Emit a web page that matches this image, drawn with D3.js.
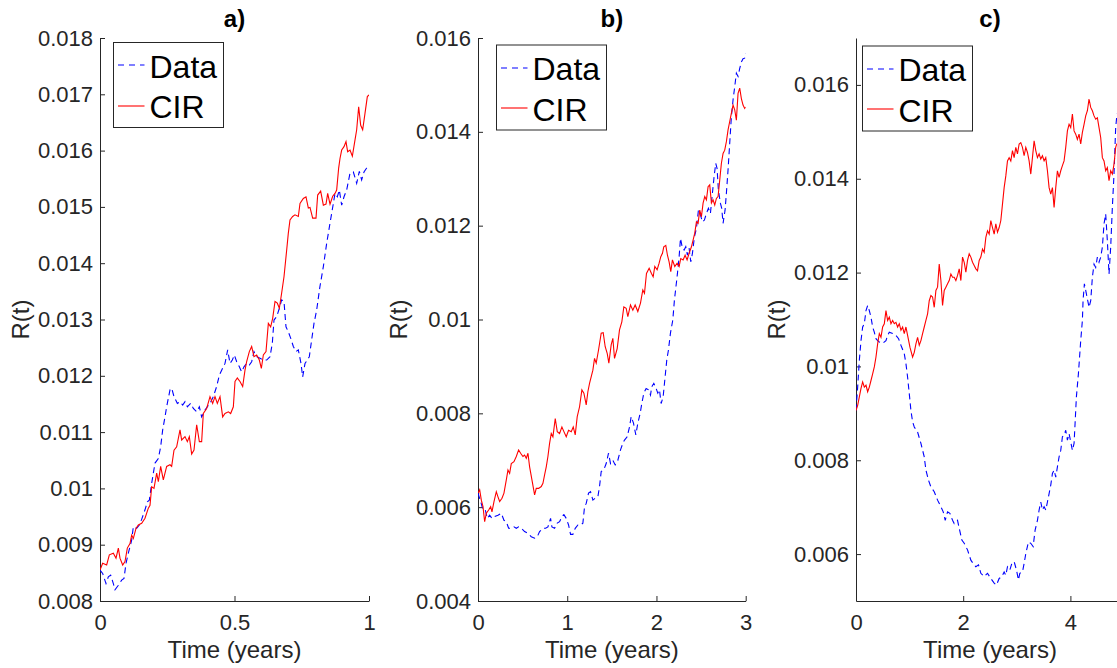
<!DOCTYPE html>
<html>
<head>
<meta charset="utf-8">
<script src="https://cdn.jsdelivr.net/npm/d3@7"></script>
<style>
  html, body { margin: 0; padding: 0; background: #fff; overflow: hidden; }
  svg { display: block; font-family: "Liberation Sans", Arial, Helvetica, sans-serif; }
</style>
</head>
<body>
<svg id="chart" width="1117" height="668"></svg>
<script>
// ---------------- DATA ----------------
const titles = ["a)", "b)", "c)"];
const xLabel = "Time (years)";
const yLabel = "R(t)";
const legendLabels = ["Data", "CIR"];

// Panel a
const aXTicks = [0, 0.5, 1];
const aYTicks = [0.008, 0.009, 0.01, 0.011, 0.012, 0.013, 0.014, 0.015, 0.016, 0.017, 0.018];
const aDataT = [0,0.0099,0.0223,0.031,0.0397,0.0496,0.0558,0.0682,0.0805,0.0892,0.0967,0.1053,0.1177,0.1239,0.1363,0.1462,0.1549,0.1673,0.176,0.1834,0.1921,0.2045,0.2169,0.2255,0.233,0.2416,0.2478,0.2602,0.2664,0.2751,0.2875,0.2974,0.3073,0.316,0.3247,0.337,0.347,0.3594,0.3693,0.3779,0.3903,0.399,0.4089,0.4213,0.4337,0.4436,0.4523,0.4647,0.4746,0.4833,0.4919,0.4994,0.5081,0.518,0.5266,0.5353,0.5452,0.5551,0.5638,0.5725,0.5824,0.5948,0.6072,0.6196,0.632,0.6406,0.6468,0.6568,0.6667,0.6753,0.684,0.6914,0.7001,0.7088,0.7187,0.7286,0.7373,0.7472,0.7534,0.7621,0.7708,0.7782,0.7869,0.7955,0.8055,0.8174,0.8303,0.8426,0.855,0.8674,0.8736,0.8823,0.8897,0.8984,0.9071,0.917,0.9294,0.9418,0.9542,0.9641,0.9727,0.9814,0.9913,1.0];
const aDataV = [0.00855,0.00849,0.00831,0.00843,0.00846,0.00831,0.0082,0.00828,0.00837,0.0084,0.00867,0.00885,0.00908,0.00932,0.00929,0.00935,0.00945,0.00962,0.00976,0.00979,0.01009,0.01045,0.01053,0.01074,0.01104,0.01127,0.01145,0.01175,0.01178,0.01163,0.01151,0.01154,0.01148,0.01154,0.01145,0.01151,0.01142,0.01136,0.01145,0.01127,0.01139,0.01145,0.01151,0.01163,0.01181,0.01201,0.0121,0.01222,0.01246,0.01222,0.01228,0.01237,0.01225,0.01216,0.01207,0.01216,0.01222,0.01219,0.01225,0.01243,0.01234,0.01231,0.01228,0.01228,0.01234,0.01258,0.01299,0.01305,0.0132,0.01335,0.01332,0.01287,0.01278,0.01267,0.01252,0.01243,0.01246,0.01222,0.01198,0.01222,0.01228,0.01234,0.01264,0.01293,0.01317,0.01358,0.01394,0.01435,0.01471,0.01506,0.01524,0.01518,0.0153,0.01503,0.01518,0.0153,0.0156,0.01562,0.01542,0.01563,0.01548,0.01562,0.01569,0.01574];
const aCirT = [0,0.0099,0.0248,0.0347,0.0496,0.0595,0.0682,0.0743,0.0843,0.0929,0.1016,0.1115,0.1177,0.1239,0.1338,0.1425,0.1549,0.1673,0.1797,0.1859,0.1921,0.2007,0.2107,0.2169,0.2255,0.2354,0.2478,0.2602,0.2664,0.2751,0.285,0.2974,0.3036,0.316,0.3247,0.3321,0.3408,0.3494,0.3594,0.3693,0.3779,0.3841,0.3965,0.4089,0.4188,0.4275,0.4362,0.4461,0.456,0.4647,0.4771,0.4857,0.4957,0.5019,0.5105,0.5204,0.5304,0.539,0.5452,0.5551,0.5638,0.5725,0.5824,0.5923,0.5998,0.6072,0.6171,0.6258,0.6344,0.6419,0.6506,0.6592,0.6667,0.6753,0.684,0.6939,0.700,0.7063,0.7162,0.7249,0.7373,0.7435,0.7559,0.7658,0.7745,0.7807,0.7906,0.803,0.8092,0.8203,0.8303,0.8402,0.8464,0.8551,0.865,0.8736,0.8798,0.8872,0.8922,0.8984,0.9071,0.9145,0.9207,0.9294,0.9381,0.948,0.9542,0.9616,0.9691,0.9765,0.9851,0.9938,1.0];
const aCirV = [0.00855,0.00867,0.00864,0.00882,0.00885,0.00876,0.00894,0.00876,0.00864,0.0087,0.00894,0.00902,0.00917,0.00911,0.00929,0.00935,0.00938,0.00947,0.00965,0.0097,0.01003,0.01,0.01027,0.01012,0.01039,0.01015,0.01039,0.01042,0.01039,0.01068,0.01074,0.01104,0.01086,0.01092,0.01083,0.01092,0.01061,0.01068,0.01113,0.01083,0.01083,0.01133,0.01142,0.01163,0.01151,0.01163,0.01151,0.01163,0.01127,0.01133,0.01136,0.01133,0.01145,0.0119,0.01196,0.0119,0.01181,0.0121,0.01225,0.01243,0.01252,0.01234,0.01237,0.01228,0.01213,0.01237,0.01243,0.01293,0.01287,0.01302,0.01332,0.01329,0.0132,0.01347,0.01376,0.01423,0.01453,0.01477,0.01483,0.01486,0.01483,0.01506,0.01515,0.01518,0.01498,0.01499,0.0148,0.0148,0.01521,0.01528,0.01503,0.01505,0.01524,0.01505,0.01519,0.01524,0.0153,0.01569,0.01586,0.01601,0.01607,0.01616,0.01598,0.01601,0.0159,0.01619,0.01637,0.01678,0.01645,0.01637,0.01666,0.01696,0.01699];

// Panel b
const bXTicks = [0, 1, 2, 3];
const bYTicks = [0.004, 0.006, 0.008, 0.01, 0.012, 0.014, 0.016];
const bDataT = [0,0.0299,0.056,0.0821,0.1045,0.1306,0.1567,0.1866,0.2239,0.2612,0.291,0.3172,0.3433,0.3731,0.403,0.4291,0.4552,0.4851,0.5224,0.5597,0.597,0.6343,0.6642,0.6903,0.7276,0.7575,0.7836,0.8134,0.8284,0.8582,0.8881,0.9142,0.9403,0.9627,0.9888,1.0149,1.0373,1.0634,1.0896,1.1194,1.1493,1.1754,1.194,1.2127,1.2388,1.2612,1.2873,1.3134,1.3433,1.3619,1.3806,1.4104,1.4366,1.4627,1.4851,1.5112,1.5373,1.5672,1.597,1.6231,1.6418,1.6716,1.6978,1.7164,1.7425,1.7687,1.791,1.8172,1.8358,1.8582,1.8843,1.9104,1.9328,1.9478,1.9701,1.9963,2.0149,2.0336,2.0522,2.0746,2.097,2.1157,2.1343,2.1567,2.183,2.2015,2.216,2.231,2.254,2.269,2.291,2.3097,2.3284,2.347,2.3657,2.3843,2.403,2.4254,2.4478,2.4701,2.4925,2.5149,2.5373,2.5597,2.5821,2.6045,2.6269,2.6455,2.6642,2.6791,2.694,2.7164,2.7313,2.7463,2.7687,2.7836,2.8022,2.8209,2.8396,2.8582,2.8769,2.8955,2.9142,2.9328,2.9515,2.9701,2.9888,3.0];
const bDataV = [0.0063,0.00612,0.00594,0.00594,0.00576,0.00583,0.00576,0.0058,0.00583,0.00587,0.00572,0.00569,0.00555,0.00555,0.00558,0.00555,0.00558,0.00555,0.00548,0.00544,0.00537,0.00534,0.00537,0.00548,0.00555,0.00555,0.00558,0.00576,0.00558,0.00555,0.00566,0.00569,0.0058,0.00584,0.00576,0.00562,0.00542,0.00542,0.00555,0.00562,0.00562,0.00566,0.00601,0.00608,0.0063,0.00633,0.00615,0.00619,0.00622,0.00644,0.00676,0.0068,0.00693,0.00715,0.00693,0.007,0.0069,0.007,0.00722,0.00736,0.00743,0.0075,0.00771,0.00793,0.00779,0.00754,0.00779,0.008,0.00821,0.00843,0.00853,0.0085,0.00839,0.00857,0.00864,0.00853,0.00843,0.0085,0.00821,0.00835,0.00878,0.00914,0.00935,0.00971,0.00999,0.01042,0.01066,0.01091,0.01134,0.01173,0.01152,0.01148,0.01155,0.01137,0.01152,0.01123,0.01141,0.01176,0.01194,0.01233,0.01223,0.01208,0.01212,0.01226,0.01237,0.01226,0.01269,0.01304,0.01333,0.01322,0.01276,0.01248,0.01237,0.01205,0.01233,0.01269,0.01319,0.01376,0.01432,0.01468,0.01496,0.01525,0.01518,0.01535,0.01549,0.01556,0.01557,0.01567];
const bCirT = [0,0.0187,0.0373,0.056,0.0746,0.0933,0.1194,0.1418,0.1567,0.1791,0.2052,0.2239,0.2425,0.2687,0.291,0.3172,0.3358,0.3545,0.3731,0.403,0.4291,0.4552,0.4776,0.5037,0.5224,0.541,0.5597,0.5784,0.6045,0.6343,0.653,0.6791,0.709,0.7276,0.7463,0.7649,0.7836,0.8022,0.8209,0.8396,0.8657,0.8881,0.9142,0.9403,0.9627,0.9888,1.0149,1.0448,1.0672,1.0896,1.1119,1.1381,1.1642,1.1866,1.2127,1.2313,1.25,1.2873,1.306,1.3246,1.3507,1.3806,1.403,1.4254,1.4478,1.4664,1.4925,1.5112,1.5299,1.5597,1.5858,1.6119,1.6343,1.6604,1.6791,1.709,1.7351,1.7612,1.791,1.8209,1.847,1.8657,1.888,1.9181,1.9439,1.9627,1.9813,2.0074,2.0298,2.0484,2.0671,2.082,2.1044,2.1231,2.1417,2.1604,2.179,2.2052,2.2313,2.2537,2.2724,2.2985,2.3209,2.3433,2.3657,2.3918,2.4104,2.4291,2.4478,2.4664,2.4851,2.5037,2.5224,2.541,2.5597,2.5784,2.597,2.6157,2.6343,2.653,2.6716,2.6903,2.709,2.7276,2.7463,2.7649,2.7836,2.8022,2.8209,2.8396,2.8582,2.8769,2.8955,2.9142,2.9328,2.9515,2.9701,2.9888,3.0];
const bCirV = [0.0063,0.00637,0.00615,0.00601,0.00569,0.00587,0.00594,0.00601,0.0059,0.00612,0.00633,0.00622,0.00612,0.00619,0.0063,0.00658,0.00679,0.00672,0.00693,0.00697,0.00708,0.00722,0.00715,0.00708,0.00711,0.00704,0.00715,0.00686,0.00658,0.00626,0.0064,0.0064,0.00644,0.00651,0.00669,0.00686,0.00708,0.00736,0.00757,0.0075,0.00789,0.00761,0.00757,0.00771,0.00761,0.0075,0.00764,0.00761,0.00771,0.00754,0.00793,0.00814,0.0085,0.00843,0.00818,0.00846,0.00864,0.00892,0.00917,0.00907,0.00935,0.00971,0.00972,0.00942,0.00928,0.00907,0.00946,0.0096,0.00917,0.00938,0.00978,0.00995,0.01027,0.01024,0.01006,0.01031,0.0102,0.01031,0.01017,0.01035,0.01063,0.01056,0.01098,0.01109,0.01098,0.01091,0.01113,0.01106,0.0112,0.01134,0.01141,0.01155,0.01158,0.01137,0.01123,0.01102,0.01127,0.01113,0.0112,0.01113,0.0113,0.01127,0.01137,0.01127,0.01141,0.01155,0.01169,0.01184,0.01208,0.01205,0.01233,0.01219,0.01248,0.01262,0.01255,0.01283,0.01287,0.01248,0.01255,0.01244,0.01258,0.01262,0.01297,0.01333,0.01354,0.01361,0.01379,0.01404,0.01422,0.0144,0.01457,0.01447,0.01425,0.01482,0.01493,0.01471,0.01457,0.0145,0.01453];

// Panel c
const cXTicks = [0, 2, 4];
const cYTicks = [0.006, 0.008, 0.01, 0.012, 0.014, 0.016];
const cDataT = [0,0.0311,0.0621,0.0932,0.1242,0.1553,0.1863,0.2174,0.2484,0.2795,0.3106,0.3416,0.3727,0.4037,0.4348,0.4969,0.559,0.59,0.6211,0.6832,0.7453,0.795,0.8385,0.9006,0.9317,0.9627,0.9938,1.0248,1.0559,1.087,1.1491,1.2112,1.2733,1.3043,1.354,1.3975,1.4596,1.5217,1.5839,1.6273,1.6646,1.7081,1.7516,1.8012,1.8323,1.8944,1.9255,1.9752,2.0186,2.0807,2.1429,2.1863,2.236,2.2857,2.3292,2.3913,2.4534,2.5155,2.5776,2.6211,2.6708,2.7205,2.764,2.795,2.8261,2.8696,2.9068,2.9503,2.9938,3.0311,3.0559,3.1056,3.1366,3.1677,3.2174,3.2609,3.3043,3.3416,3.3851,3.4161,3.4472,3.4783,3.5093,3.5404,3.5714,3.6025,3.6335,3.6646,3.6957,3.7267,3.7578,3.7888,3.8199,3.8509,3.882,3.913,3.9441,3.9752,4.0062,4.0373,4.0683,4.087,4.1118,4.1491,4.1925,4.2236,4.236,4.2609,4.2857,4.3168,4.3478,4.3789,4.4099,4.441,4.472,4.5031,4.5342,4.5652,4.5963,4.6273,4.6584,4.6894,4.7205,4.7516,4.7826,4.8137,4.8447,4.8634,4.95,5.0];
const cDataV = [0.00906,0.00956,0.01013,0.01055,0.01084,0.01091,0.01119,0.0113,0.01119,0.01105,0.01084,0.01073,0.01059,0.01055,0.01052,0.01049,0.01055,0.01066,0.01073,0.0107,0.01066,0.01059,0.01045,0.01027,0.01006,0.00977,0.00942,0.00906,0.00882,0.00871,0.0086,0.00836,0.00807,0.00779,0.00757,0.00743,0.00733,0.00715,0.00701,0.0069,0.00672,0.0069,0.00687,0.00672,0.00665,0.00672,0.00655,0.0063,0.00623,0.00609,0.00587,0.0058,0.00573,0.00577,0.00559,0.00552,0.00559,0.00548,0.00538,0.00534,0.00548,0.00552,0.00562,0.00555,0.00573,0.00566,0.0058,0.00584,0.00566,0.00545,0.00559,0.00562,0.0058,0.00601,0.00626,0.00623,0.00616,0.00651,0.00672,0.00694,0.00711,0.00694,0.00701,0.00694,0.00711,0.00729,0.00747,0.00772,0.00779,0.00764,0.00786,0.00807,0.00821,0.0085,0.00853,0.00864,0.00843,0.00857,0.00839,0.00821,0.00836,0.00878,0.00935,0.00984,0.01055,0.01098,0.0114,0.01176,0.01162,0.01144,0.01126,0.0114,0.0119,0.01218,0.01211,0.01233,0.01222,0.01233,0.01254,0.01304,0.01325,0.01268,0.01197,0.01254,0.01339,0.0141,0.01509,0.01531,0.0158,0.016];
const cCirT = [0,0.0311,0.0621,0.0932,0.1242,0.1553,0.1863,0.2174,0.2484,0.2795,0.3106,0.3416,0.3727,0.4037,0.4348,0.4658,0.4969,0.528,0.559,0.59,0.6211,0.6522,0.6832,0.7143,0.7453,0.7764,0.8075,0.8385,0.8696,0.9006,0.9317,0.9627,1.0062,1.0559,1.087,1.118,1.1491,1.1801,1.2112,1.2422,1.2733,1.3043,1.3354,1.3665,1.3975,1.4286,1.4596,1.4907,1.5217,1.5528,1.5839,1.6149,1.646,1.677,1.7081,1.7391,1.7702,1.8012,1.8323,1.8634,1.8944,1.9255,1.9565,1.9876,2.0186,2.0497,2.0807,2.1118,2.1429,2.1739,2.205,2.236,2.2671,2.2981,2.3292,2.3602,2.3913,2.4224,2.4534,2.4845,2.5155,2.5466,2.5776,2.6087,2.6398,2.6708,2.7019,2.7329,2.764,2.795,2.8261,2.8571,2.8882,2.9193,2.9503,2.9814,3.0124,3.0435,3.0745,3.1056,3.1366,3.1677,3.1988,3.2298,3.2609,3.2919,3.323,3.354,3.3851,3.4161,3.4472,3.4783,3.5093,3.5404,3.5714,3.6025,3.6335,3.6646,3.6957,3.7267,3.7578,3.7888,3.8199,3.8509,3.882,3.913,3.9441,3.9752,4.0062,4.0373,4.0683,4.0994,4.1304,4.1615,4.1925,4.2236,4.2547,4.2857,4.3168,4.3478,4.3789,4.4099,4.441,4.472,4.5031,4.5342,4.5652,4.5963,4.6273,4.6584,4.6894,4.7205,4.7516,4.7826,4.8137,4.8447,4.8634,4.95,5.0];
const cCirV = [0.00906,0.00917,0.00935,0.00953,0.00967,0.00956,0.0096,0.00946,0.00956,0.0097,0.00984,0.00999,0.0102,0.01048,0.0107,0.01062,0.01084,0.01091,0.01119,0.01098,0.01105,0.01091,0.01098,0.01091,0.01094,0.01084,0.01091,0.01077,0.01084,0.0107,0.01084,0.01066,0.01041,0.0102,0.0103,0.01048,0.01062,0.01045,0.01055,0.0107,0.01084,0.01098,0.01112,0.0114,0.01151,0.01148,0.01126,0.01162,0.01169,0.01218,0.01183,0.0113,0.01162,0.01169,0.01176,0.01183,0.01197,0.0119,0.0119,0.01183,0.01194,0.01208,0.01183,0.01233,0.01222,0.01201,0.01226,0.0124,0.01233,0.01222,0.01215,0.01208,0.01204,0.01226,0.01233,0.0125,0.01243,0.01275,0.01289,0.01282,0.01311,0.01296,0.01282,0.01304,0.01286,0.01296,0.01311,0.01346,0.01381,0.01406,0.01438,0.01445,0.01438,0.0146,0.01445,0.01467,0.01453,0.01474,0.01477,0.01467,0.01449,0.01467,0.01456,0.01438,0.0141,0.01445,0.01481,0.0146,0.01445,0.01453,0.01442,0.01449,0.01438,0.01445,0.01417,0.01381,0.01367,0.01381,0.01339,0.01381,0.01417,0.01403,0.01417,0.01428,0.01438,0.01467,0.01502,0.01516,0.01509,0.01538,0.01502,0.01495,0.01484,0.01495,0.01474,0.01499,0.01516,0.01534,0.01545,0.0157,0.01552,0.01545,0.01534,0.01527,0.0153,0.01509,0.01488,0.01445,0.01438,0.01417,0.01424,0.01396,0.01417,0.0141,0.01431,0.01467,0.01474,0.0148,0.0149];

// ---------------- LAYOUT ----------------
const panels = [
  { title: titles[0], xDomain: [0, 1], yDomain: [0.008, 0.018], xTicks: aXTicks, yTicks: aYTicks,
    dataT: aDataT, dataV: aDataV, cirT: aCirT, cirV: aCirV, left: 100, right: 369, legend: [113.5, 42.5] },
  { title: titles[1], xDomain: [0, 3], yDomain: [0.004, 0.016], xTicks: bXTicks, yTicks: bYTicks,
    dataT: bDataT, dataV: bDataV, cirT: bCirT, cirV: bCirV, left: 478, right: 745.7, legend: [496.5, 45] },
  { title: titles[2], xDomain: [0, 5], yDomain: [0.005, 0.017], xTicks: cXTicks, yTicks: cYTicks,
    dataT: cDataT, dataV: cDataV, cirT: cCirT, cirV: cCirV, left: 856, right: 1124, legend: [862.5, 46] }
];
const plotTop = 38, plotBottom = 601;
const axisColor = "#262626";
const fmt = d => String(+d.toFixed(4));

const svg = d3.select("#chart");

panels.forEach((p, i) => {
  const x = d3.scaleLinear().domain(p.xDomain).range([p.left, p.right]);
  const y = d3.scaleLinear().domain(p.yDomain).range([plotBottom, plotTop]);
  const g = svg.append("g");

  const clipId = "clip" + i;
  svg.append("defs").append("clipPath").attr("id", clipId)
    .append("rect").attr("x", p.left).attr("y", plotTop - 1)
    .attr("width", p.right - p.left).attr("height", plotBottom - plotTop + 2);

  const yAxis = d3.axisLeft(y).tickValues(p.yTicks).tickFormat(fmt)
    .tickSizeInner(-5).tickSizeOuter(0).tickPadding(7);
  const xAxis = d3.axisBottom(x).tickValues(p.xTicks).tickFormat(fmt)
    .tickSizeInner(-5).tickSizeOuter(0).tickPadding(13);

  const gy = g.append("g").attr("transform", `translate(${p.left},0)`).call(yAxis);
  const gx = g.append("g").attr("transform", `translate(0,${plotBottom})`).call(xAxis);
  [gx, gy].forEach(ax => {
    ax.select(".domain").attr("stroke", axisColor).attr("stroke-width", 1);
    ax.selectAll(".tick line").attr("stroke", axisColor).attr("stroke-width", 1);
    ax.selectAll(".tick text").attr("fill", axisColor)
      .style("font-size", "22px").style("font-family", "'Liberation Sans', Arial, sans-serif");
  });

  const line = d3.line().x(d => x(d[0])).y(d => y(d[1]));
  const dataPts = p.dataT.map((t, k) => [t, p.dataV[k]]);
  const cirPts = p.cirT.map((t, k) => [t, p.cirV[k]]);
  const plot = g.append("g").attr("clip-path", `url(#${clipId})`);
  plot.append("path").datum(dataPts).attr("d", line)
    .attr("fill", "none").attr("stroke", "#0000ff").attr("stroke-width", 1.1)
    .attr("stroke-dasharray", "6,4");
  plot.append("path").datum(cirPts).attr("d", line)
    .attr("fill", "none").attr("stroke", "#ff0000").attr("stroke-width", 1.1);

  g.append("text").attr("x", (p.left + p.right) / 2).attr("y", 27)
    .attr("text-anchor", "middle").attr("font-weight", "bold")
    .attr("font-size", 24).attr("fill", "#000").text(p.title);

  g.append("text").attr("x", (p.left + p.right) / 2).attr("y", 658)
    .attr("text-anchor", "middle").attr("font-size", 24).attr("fill", axisColor).text(xLabel);

  g.append("text").attr("transform", `translate(${p.left - 71},${(plotTop + plotBottom) / 2}) rotate(-90)`)
    .attr("text-anchor", "middle").attr("font-size", 24).attr("fill", axisColor).text(yLabel);

  const [lx, ly] = p.legend;
  const lg = g.append("g").attr("transform", `translate(${lx},${ly})`);
  lg.append("rect").attr("x", 0).attr("y", 0).attr("width", 110).attr("height", 85)
    .attr("fill", "#fff").attr("stroke", axisColor).attr("stroke-width", 1);
  const rows = [
    { label: legendLabels[0], color: "#0000ff", dash: "6,5", ly: Math.round(ly + 22.5) - ly, ty: 35 },
    { label: legendLabels[1], color: "#ff0000", dash: null, ly: Math.round(ly + 63) - ly, ty: 75.5 }
  ];
  rows.forEach(r => {
    lg.append("line").attr("x1", 4.5).attr("x2", 31).attr("y1", r.ly).attr("y2", r.ly)
      .attr("stroke", r.color).attr("stroke-width", 1.1)
      .attr("stroke-dasharray", r.dash);
    lg.append("text").attr("x", 36).attr("y", r.ty).attr("font-size", 32)
      .attr("fill", "#000").text(r.label);
  });
});
</script>
</body>
</html>
